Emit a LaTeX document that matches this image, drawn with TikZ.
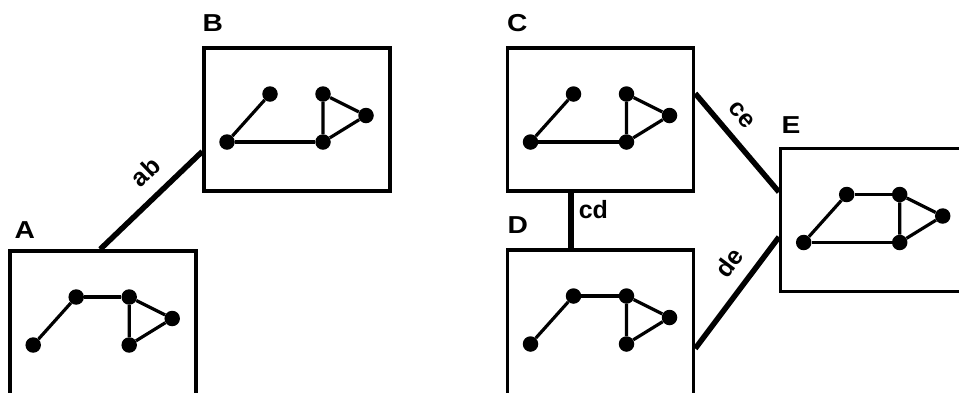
\documentclass[tikz,border=0pt]{standalone}
\usepackage{fontspec}
\setmainfont{Liberation Sans}
\newfontfamily\partfont[FakeStretch=1.15]{Liberation Sans Bold}
\begin{document}
\begin{tikzpicture}[x=1pt, y=-1pt,
    part/.style={draw, line width=3.5pt, minimum width=186pt, minimum height=143pt, inner sep=0pt},
    tallpart/.style={part, minimum height=170pt},
    vtx/.style={circle, fill, minimum size=15.5pt, inner sep=0pt},
    edge/.style={line width=3.2pt},
    link/.style={line width=5.5pt},
    partname/.style={font=\partfont\fontsize{24.5}{24.5}\selectfont, anchor=base west, inner sep=0pt},
    tag/.style={font=\bfseries\fontsize{25}{25}\selectfont, inner sep=1pt}]
\useasboundingbox (0,0) rectangle (959,392);
\clip (0,0) rectangle (959,392);
% the five boxes (A and D run off the bottom)
\node[tallpart] (A) at (103.2,336) {};
\node[part] (B) at (297,119.5) {};
\node[part] (C) at (600.5,119.5) {};
\node[tallpart] (D) at (600.5,335) {};
\node[part] (E) at (873.7,220) {};
\node[partname] (Aname) at (14.3,238.3) {A};
\node[partname] (Bname) at (202.5,31.5) {B};
\node[partname] (Cname) at (507,31.7) {C};
\node[partname] (Dname) at (507.5,233.3) {D};
\node[partname] (Ename) at (781.3,133.5) {E};
% the small graph inside each box
\foreach \p in {A,B,C,D,E} {
  \node[vtx] (\p1) at ([shift={(-70,95.75)}]\p.north) {};
  \node[vtx] (\p2) at ([shift={(-27,47.75)}]\p.north) {};
  \node[vtx] (\p3) at ([shift={(26,47.75)}]\p.north) {};
  \node[vtx] (\p4) at ([shift={(69,69.25)}]\p.north) {};
  \node[vtx] (\p5) at ([shift={(26,95.75)}]\p.north) {};
  \draw[edge] (\p2) -- (\p1);
  \draw[edge] (\p3) -- (\p4) -- (\p5) -- (\p3);
}
\foreach \p in {A,D,E} \draw[edge] (\p2) -- (\p3);
\foreach \p in {B,C,E} \draw[edge] (\p1) -- (\p5);
% links between boxes
\draw[link] ([xshift=-3pt]A.north) -- node[tag, sloped, above=11.8pt, pos=0.61, anchor=south] {ab} ([yshift=-32pt]B.west);
\draw[link] ([yshift=26pt]C.east) -- node[tag, sloped, above=11pt, pos=0.36, anchor=south] {ce} ([yshift=28pt]E.west);
\draw[link] ([yshift=-13.5pt]D.east) -- node[tag, sloped, above=11.5pt, pos=0.64, anchor=south] {de} ([yshift=-17pt]E.west);
\draw[link] ([xshift=-29.5pt]C.south) -- node[tag, right=4pt, pos=0.31] {cd} ([xshift=-29.5pt]D.north);
\end{tikzpicture}
\end{document}
